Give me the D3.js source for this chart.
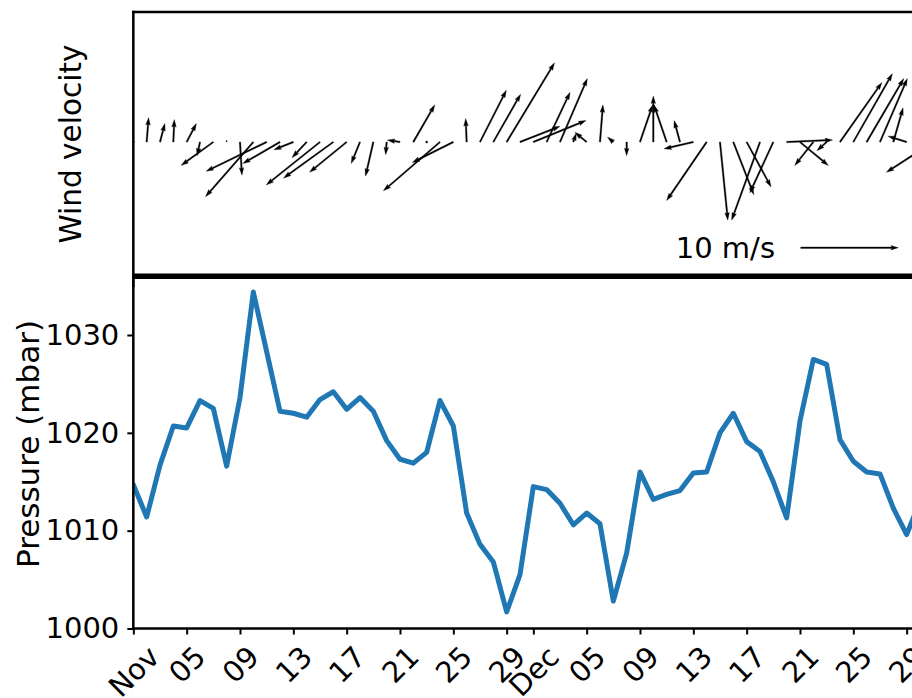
<!DOCTYPE html>
<html><head><meta charset="utf-8">
<script src="https://cdn.jsdelivr.net/npm/d3@7"></script>
<style>
body{margin:0;background:#fff;}
svg{display:block;}
text{font-family:"DejaVu Sans",sans-serif;fill:#000;}
</style>
</head><body>
<svg id="chart" width="912" height="698"></svg>
<script>
// ---------------- data ----------------
const startDate = "2020-11-01";
const pressure = [1014.7, 1011.4, 1016.7, 1020.7, 1020.5, 1023.3, 1022.5, 1016.6, 1023.6, 1034.4,
  1028.3, 1022.2, 1022.0, 1021.6, 1023.4, 1024.2, 1022.4, 1023.6, 1022.2, 1019.2,
  1017.3, 1016.9, 1018.0, 1023.3, 1020.7, 1011.8, 1008.6, 1006.8, 1001.7, 1005.5,
  1014.5, 1014.2, 1012.8, 1010.6, 1011.8, 1010.7, 1002.8, 1007.7, 1016.0, 1013.2,
  1013.7, 1014.1, 1015.9, 1016.0, 1020.0, 1022.0, 1019.1, 1018.1, 1015.0, 1011.3,
  1021.2, 1027.5, 1027.0, 1019.3, 1017.1, 1016.0, 1015.8, 1012.3, 1009.6, 1013.0, 1014.0];
const windU = [0, 0.2, 0.5, 0.1, 1.0, -0.3, -3.3, 0.0, 0.2, -4.9,
  -6.2, -3.8, -2.0, -1.5, -5.5, -5.1, -3.8, -0.9, -0.8, -0.1,
  -1.3, 2.2, 0.05, -5.8, -4.2, -0.1, 2.7, 2.8, 4.9, 4.1,
  5.4, 2.4, 2.8, 0.3, -1.2, 0.3, -0.6, 0.0, 1.3, 0.0,
  -1.3, -0.6, -3.0, -4.1, 0.8, 2.1, 2.5, -2.9, -2.4, 4.7,
  2.9, -1.9, -1.0, 4.3, 4.0, 3.8, 2.8, 1.0, -1.9, 0.8, -4.8];
const windV = [0, 2.5, 1.9, 2.3, 1.9, -1.4, -2.4, 0.2, -3.4, -5.6,
  -3.0, -2.2, -0.8, -1.6, -4.4, -3.7, -3.1, -2.2, -3.5, -1.3,
  0.2, 3.8, 0.1, -5.0, -2.1, 2.4, 5.3, 4.9, 8.1, 1.6,
  2.2, 5.1, 6.5, 0.9, 1.0, 3.8, 0.5, -1.4, 3.8, 4.7,
  3.8, 2.2, -0.7, -6.0, -8.0, -5.4, -4.6, -8.0, -5.2, 0.2,
  -2.4, -2.4, -0.9, 6.1, 7.0, 6.5, 6.5, 3.5, 0.6, 2.0, -3.1];
const yTicks = [1000, 1010, 1020, 1030];
const xTickDates = ["2020-11-01","2020-11-05","2020-11-09","2020-11-13","2020-11-17","2020-11-21","2020-11-25","2020-11-29",
  "2020-12-01","2020-12-05","2020-12-09","2020-12-13","2020-12-17","2020-12-21","2020-12-25","2020-12-29"];
const xTickLabels = ["Nov","05","09","13","17","21","25","29","Dec","05","09","13","17","21","25","29"];
const keySpeed = 10;
const keyLabel = "10 m/s";
const windLabel = "Wind velocity";
const pressureLabel = "Pressure (mbar)";

// ---------------- layout ----------------
const FS = 29;
const left = 133.33, dayPx = 13.333;
const topY0 = 12, topY1 = 276, botY0 = 276, botY1 = 628.5;

const svg = d3.select("#chart");
const t0 = new Date(startDate + "T00:00:00Z");
const dates = pressure.map((_, i) => d3.utcDay.offset(t0, i));

const x = d3.scaleUtc().domain([t0, d3.utcDay.offset(t0, 60)]).range([left, left + 60 * dayPx]);
const y = d3.scaleLinear().domain([1000, 1036.03]).range([botY1, botY0]);
const yTop = d3.scaleLinear().domain([-1, 1]).range([272, 12]);
const speed = d3.scaleLinear().domain([0, 10]).range([0, 97.7]);

const defs = svg.append("defs");
defs.append("clipPath").attr("id", "clipTop").append("rect")
  .attr("x", left).attr("y", topY0).attr("width", 900).attr("height", topY1 - topY0);
defs.append("clipPath").attr("id", "clipBot").append("rect")
  .attr("x", left).attr("y", botY0).attr("width", 900).attr("height", botY1 - botY0);

// ---------------- quiver ----------------
function arrowPoly(x0, y0, dx, dy) {
  const L = Math.hypot(dx, dy);
  const w = 1.5, hl = 7.5, hal = 6.75, hw = 4.6;
  if (L < 1.5) {
    const r = 1.1;
    return d3.range(6).map(k => [x0 + r * Math.cos(k * Math.PI / 3), y0 + r * Math.sin(k * Math.PI / 3)]);
  }
  const ux = dx / L, uy = dy / L;
  let pts;
  if (L < hl) {
    const s = L / hl;
    pts = [[0, -s*w/2], [s*(hl-hal), -s*w/2], [0, -s*hw/2], [L, 0], [0, s*hw/2], [s*(hl-hal), s*w/2], [0, s*w/2]];
  } else {
    pts = [[0, -w/2], [L-hal, -w/2], [L-hl, -hw/2], [L, 0], [L-hl, hw/2], [L-hal, w/2], [0, w/2]];
  }
  return pts.map(([a, b]) => [x0 + a*ux - b*uy, y0 + a*uy + b*ux]);
}
const polyLine = d3.line().curve(d3.curveLinearClosed);

const quiv = svg.append("g").attr("clip-path", "url(#clipTop)");
quiv.selectAll("path").data(dates).join("path")
  .attr("d", (d, i) => {
    const dx = Math.sign(windU[i]) * speed(Math.abs(windU[i]));
    const dy = -Math.sign(windV[i]) * speed(Math.abs(windV[i]));
    return polyLine(arrowPoly(x(d), yTop(0), dx, dy));
  })
  .attr("fill", "#000").attr("stroke", "#000").attr("stroke-width", 0.3);

// key
const keyX = 800.7, keyY = 247.7;
svg.append("path").attr("d", polyLine(arrowPoly(keyX, keyY, speed(keySpeed), 0)))
  .attr("fill", "#000").attr("stroke", "#000").attr("stroke-width", 0.3);
svg.append("text").attr("x", 775).attr("y", keyY).attr("dy", "0.35em")
  .attr("text-anchor", "end").style("font-size", FS + "px").text(keyLabel);

// top panel frame
svg.append("line").attr("x1", left - 1.2).attr("x2", 912).attr("y1", topY0).attr("y2", topY0)
  .attr("stroke", "#000").attr("stroke-width", 2.5);
svg.append("line").attr("x1", left).attr("x2", left).attr("y1", topY0 - 1.2).attr("y2", 287)
  .attr("stroke", "#000").attr("stroke-width", 2.5);
svg.append("line").attr("x1", left).attr("x2", 912).attr("y1", 276.3).attr("y2", 276.3)
  .attr("stroke", "#000").attr("stroke-width", 5.5);

// ---------------- pressure line ----------------
svg.append("path").datum(pressure)
  .attr("clip-path", "url(#clipBot)")
  .attr("d", d3.line().x((d, i) => x(dates[i])).y(d => y(d)))
  .attr("fill", "none").attr("stroke", "#1f77b4").attr("stroke-width", 5)
  .attr("stroke-linejoin", "round").attr("stroke-linecap", "round");

// ---------------- axes ----------------
const yAxis = svg.append("g").attr("transform", `translate(${left},0)`)
  .call(d3.axisLeft(y).tickValues(yTicks).tickFormat(d3.format("d")).tickSizeInner(6).tickSizeOuter(0).tickPadding(8));
const tickDates = xTickDates.map(s => new Date(s + "T00:00:00Z"));
const xAxis = svg.append("g").attr("transform", `translate(0,${botY1})`)
  .call(d3.axisBottom(x).tickValues(tickDates).tickFormat((d, i) => xTickLabels[i]).tickSizeInner(6).tickSizeOuter(0));

[xAxis, yAxis].forEach(g => {
  g.select(".domain").attr("stroke", "#000").attr("stroke-width", 2.5);
  g.selectAll(".tick line").attr("stroke", "#000").attr("stroke-width", 2);
  g.selectAll(".tick text").style("font-size", FS + "px").style("font-family", "DejaVu Sans").attr("fill", "#000");
});
yAxis.select(".domain").attr("d", `M0,${botY1 + 1.2}V${botY0}`);
xAxis.select(".domain").attr("d", `M${left - 1.2},0H912`);

const h = 1.164 * FS;
xAxis.selectAll(".tick text").each(function () {
  const t = d3.select(this);
  t.attr("y", 0).attr("dy", "0.35em").attr("text-anchor", "middle");
  const wdt = this.getComputedTextLength();
  const cy = 6 + 5 + (wdt + h) / (2 * Math.SQRT2);
  t.attr("transform", `translate(0,${cy}) rotate(-45)`);
});

// axis labels
svg.append("text").attr("transform", `translate(81,${(topY0 + topY1) / 2}) rotate(-90)`)
  .attr("text-anchor", "middle").style("font-size", "29.5px").text(windLabel);
svg.append("text").attr("transform", `translate(39,444) rotate(-90)`)
  .attr("text-anchor", "middle").style("font-size", "31px").text(pressureLabel);
</script>
</body></html>
